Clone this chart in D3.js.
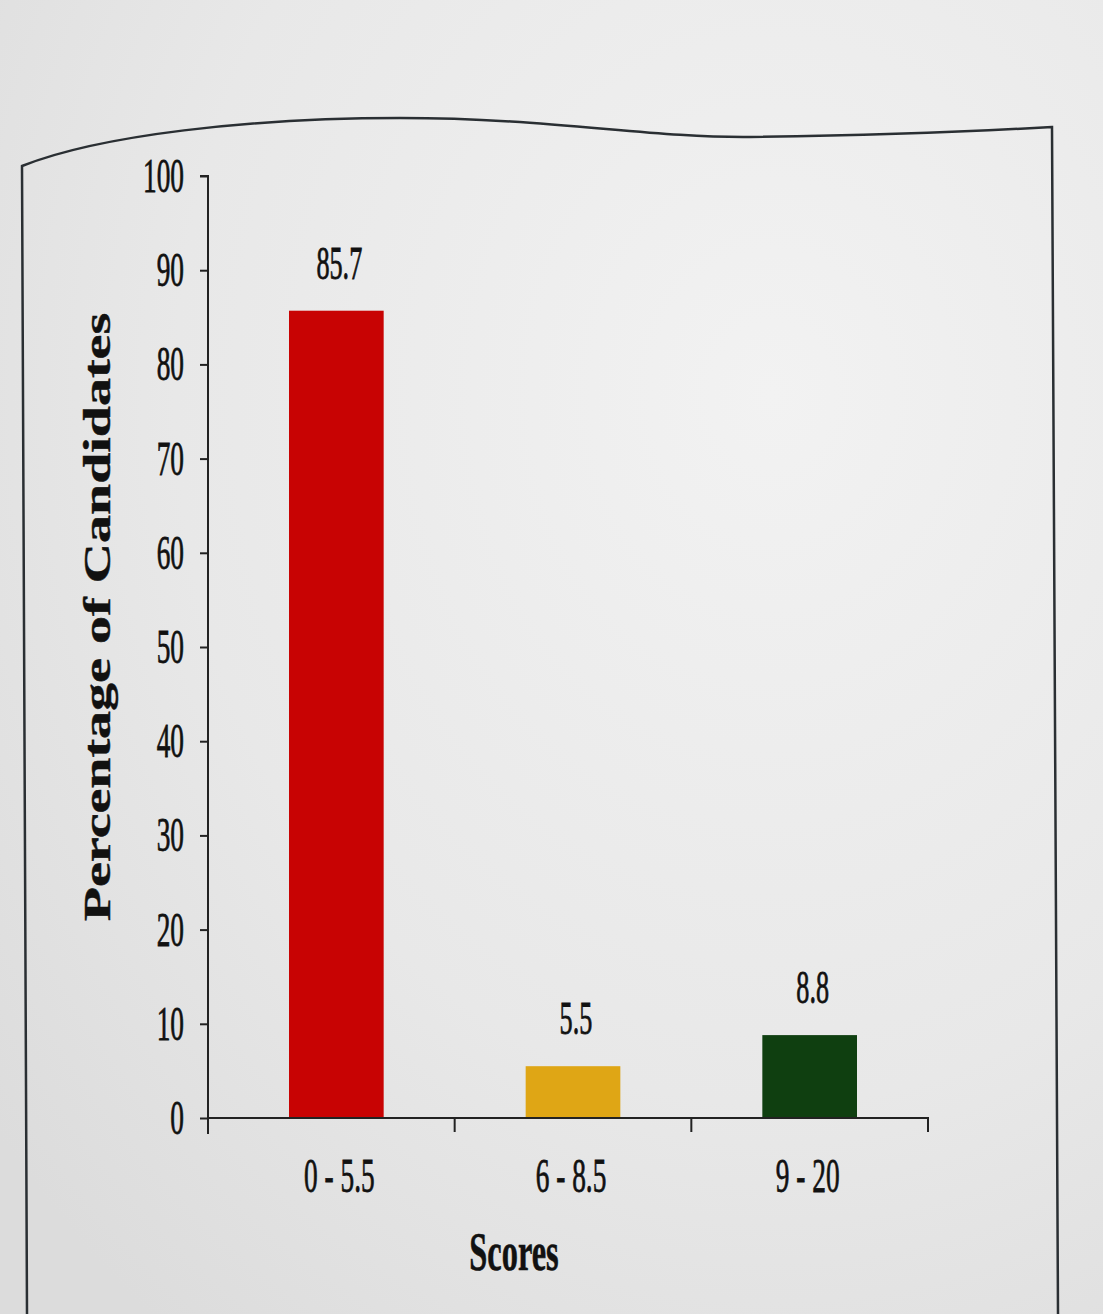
<!DOCTYPE html>
<html><head><meta charset="utf-8">
<script src="https://cdn.jsdelivr.net/npm/d3@7"></script>
<style>body{margin:0;background:#eeeeee;overflow:hidden}</style>
</head><body>
<svg id="c" width="1103" height="1314"></svg>
<script>
const categories = ["0 - 5.5", "6 - 8.5", "9 - 20"];
const values = [85.7, 5.5, 8.8];
const valueLabels = ["85.7", "5.5", "8.8"];
const barColors = ["#c80303", "#dfa615", "#0f3f10"];
const yTicks = [0, 10, 20, 30, 40, 50, 60, 70, 80, 90, 100];
const yTitle = "Percentage of Candidates";
const xTitle = "Scores";

const svg = d3.select("#c");
const defs = svg.append("defs");
const g1 = defs.append("radialGradient").attr("id","bg").attr("cx","0.7").attr("cy","0.3").attr("r","0.9");
g1.append("stop").attr("offset","0").attr("stop-color","#f2f2f2");
g1.append("stop").attr("offset","0.6").attr("stop-color","#e8e8e8");
g1.append("stop").attr("offset","1").attr("stop-color","#dcdcdc");
svg.append("rect").attr("width",1103).attr("height",1314).attr("fill","url(#bg)");

// frame
svg.append("path")
  .attr("d","M27,1314 L22,166 C100,135 250,118 400,118 C550,118 650,138 750,137 C900,135 1000,130 1052,127 L1058,1314")
  .attr("fill","none").attr("stroke","#2a2f33").attr("stroke-width",2.5);

const x0 = 218, x1 = 928;
const x = d3.scaleBand().domain(categories).range([x0, x1]).paddingInner(0.6).paddingOuter(0.3);
const y = d3.scaleLinear().domain([0, 100]).range([1118, 176]);

const font = "'Liberation Serif','Times New Roman',serif";
const sx = 0.57;

// bars
svg.selectAll("rect.bar").data(values).join("rect").attr("class","bar")
  .attr("x",(d,i)=>x(categories[i])).attr("width",x.bandwidth())
  .attr("y",d=>y(d)).attr("height",d=>y(0)-y(d))
  .attr("fill",(d,i)=>barColors[i]);

// y axis
const ya = svg.append("g").attr("transform",`translate(${x0-10},0)`)
  .call(d3.axisLeft(y).tickValues(yTicks).tickSize(8).tickFormat(""));
ya.select(".domain").attr("d",`M-8,${y(100)}H0V${y(0)+16}`).attr("stroke","#222").attr("stroke-width",2);
ya.selectAll(".tick line").attr("stroke","#222").attr("stroke-width",2);
svg.selectAll("text.yt").data(yTicks).join("text").attr("class","yt")
  .attr("transform",d=>`translate(184,${y(d)+16}) scale(${sx},1)`)
  .attr("text-anchor","end").attr("font-family",font).attr("font-size",48).attr("fill","#111")
  .attr("stroke","#111").attr("stroke-width",0.8)
  .text(d=>d);

// x axis
const xa = svg.append("g").attr("transform",`translate(0,${y(0)})`);
xa.append("path").attr("d",`M${x0-10},0H${x1}V14`).attr("fill","none").attr("stroke","#222").attr("stroke-width",2);
const bounds = [x0, x(categories[1]) - x.step()*x.paddingInner()/2, x(categories[2]) - x.step()*x.paddingInner()/2, x1];
xa.selectAll("line.xt").data(bounds.slice(1,3)).join("line").attr("class","xt")
  .attr("x1",d=>d).attr("x2",d=>d).attr("y1",0).attr("y2",14).attr("stroke","#222").attr("stroke-width",2);

svg.selectAll("text.xl").data(categories).join("text").attr("class","xl")
  .attr("transform",(d,i)=>`translate(${x(d)+x.bandwidth()/2 + (i===0?3:-2)},${y(0)+74}) scale(${sx},1)`)
  .attr("text-anchor","middle").attr("font-family",font).attr("font-size",48).attr("fill","#111")
  .attr("stroke","#111").attr("stroke-width",0.8)
  .text(d=>d);

// value labels
svg.selectAll("text.vl").data(values).join("text").attr("class","vl")
  .attr("transform",(d,i)=>`translate(${x(categories[i])+x.bandwidth()/2 + 3},${y(d)-32}) scale(${sx},1)`)
  .attr("text-anchor","middle").attr("font-family",font).attr("font-size",46).attr("fill","#111")
  .attr("stroke","#111").attr("stroke-width",0.8)
  .text((d,i)=>valueLabels[i]);

// titles
svg.append("text").attr("transform",`translate(514,1270) scale(0.6,1)`)
  .attr("text-anchor","middle").attr("font-family",font).attr("font-weight","bold").attr("font-size",54).attr("fill","#111")
  .attr("stroke","#111").attr("stroke-width",0.6)
  .text(xTitle);
svg.append("text").attr("transform",`translate(110,617) rotate(-90) scale(1,0.68)`)
  .attr("text-anchor","middle").attr("font-family",font).attr("font-weight","bold").attr("font-size",56).attr("fill","#111")
  .attr("stroke","#111").attr("stroke-width",0.6)
  .text(yTitle);
</script>
</body></html>
